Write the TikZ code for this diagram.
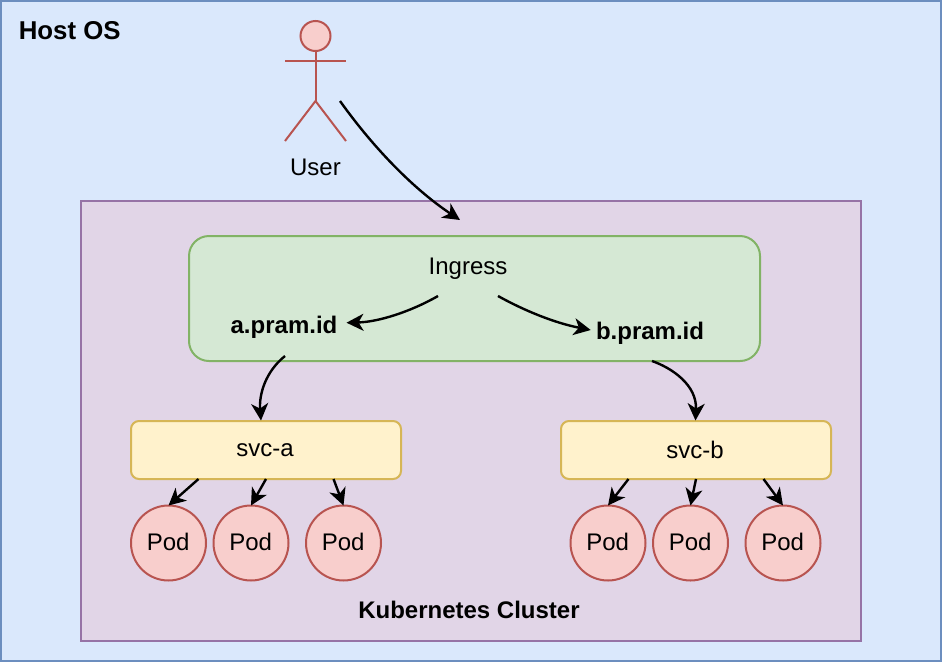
\documentclass[tikz,border=0pt]{standalone}
\usepackage{fontspec}
\setmainfont{Liberation Sans}
\usetikzlibrary{arrows.meta,calc}
\definecolor{hostfill}{HTML}{DAE8FC}\definecolor{hostline}{HTML}{6C8EBF}
\definecolor{clusterfill}{HTML}{E1D5E7}\definecolor{clusterline}{HTML}{9673A6}
\definecolor{ingfill}{HTML}{D5E8D4}\definecolor{ingline}{HTML}{82B366}
\definecolor{svcfill}{HTML}{FFF2CC}\definecolor{svcline}{HTML}{D6B656}
\definecolor{podfill}{HTML}{F8CECC}\definecolor{podline}{HTML}{B85450}
\newcommand{\podtext}{\raisebox{1.7pt}{Pod}\kern0.8pt}
\tikzset{
  box/.style={draw,line width=2pt,inner sep=0pt,outer sep=0pt,rectangle},
  hostbox/.style={box,fill=hostfill,draw=hostline,minimum width=940pt,minimum height=660pt},
  clusterbox/.style={box,fill=clusterfill,draw=clusterline,minimum width=780pt,minimum height=440pt},
  ingressbox/.style={box,fill=ingfill,draw=ingline,rounded corners=20pt,minimum width=571pt,minimum height=125pt},
  svcbox/.style={box,fill=svcfill,draw=svcline,rounded corners=8pt,minimum width=270pt,minimum height=58pt,font=\fontsize{24pt}{28pt}\selectfont},
  podnode/.style={circle,draw=podline,fill=podfill,line width=2pt,inner sep=0pt,outer sep=0pt,minimum size=75pt,font=\fontsize{24pt}{28pt}\selectfont},
  plainlabel/.style={inner sep=0pt,outer sep=0pt,anchor=base,font=\fontsize{24pt}{28pt}\selectfont},
  boldlabel/.style={inner sep=0pt,outer sep=0pt,anchor=base,font=\fontsize{24pt}{28pt}\selectfont\bfseries},
  actorline/.style={draw=podline,line width=2pt},
  flow/.style={draw=black,line width=2.4pt,-{Stealth[length=17pt,width=17pt,inset=5pt]}},
}
\begin{document}
\begin{tikzpicture}[x=1pt,y=-1pt]
\useasboundingbox (0,0) rectangle (942,662);
\node[hostbox] (host) at (471,331) {};
\node[clusterbox] (cluster) at (471,421) {};
\node[ingressbox] (ingress) at (474.5,298.5) {};
\node[svcbox] (svca) at (266,450) {svc-a\kern2pt};
\node[svcbox] (svcb) at (696,450) {svc-b\kern2pt};
\foreach \n/\x in {p1/168.5,p2/251,p3/343.5,p4/608,p5/690.5,p6/783}
  \node[podnode] (\n) at (\x,543) {\podtext};
\node[boldlabel,font=\fontsize{25.8pt}{30pt}\selectfont\bfseries] (hostlabel) at (69.7,39) {Host OS};
\node[boldlabel] (clusterlabel) at (469,618) {Kubernetes Cluster};
\node[plainlabel] (inglabel) at (468,274) {Ingress};
\node[boldlabel] (alabel) at (284,333) {a.pram.id};
\node[boldlabel] (blabel) at (650,339) {b.pram.id};
\node[plainlabel] (userlabel) at (315.5,175) {User};
% actor
\node[circle,draw=podline,fill=podfill,line width=2pt,minimum size=30pt,inner sep=0pt,outer sep=0pt] (head) at (315.5,36) {};
\coordinate (hip) at (315.5,101);
\coordinate (larm) at (285,61);
\coordinate (rarm) at (346,61);
\coordinate (lfoot) at (285,141);
\coordinate (rfoot) at (346,141);
\draw[actorline] (head.south) -- (hip);
\draw[actorline] (larm) -- (rarm);
\draw[actorline] (lfoot) -- (hip) -- (rfoot);
% connectors
\coordinate (userout) at (340,101);
\coordinate (ingin) at (460,220);
\coordinate (ingoutl) at (438,296);
\coordinate (ingoutr) at (498,296);
\coordinate (atip) at (346.5,322.7);
\coordinate (btip) at (590.7,330);
\coordinate (aout) at (285,356);
\coordinate (bout) at (652,361);
\coordinate (svcatop) at (261,420.5);
\coordinate (svcbtop) at (695.5,420.5);
\draw[flow] (userout) .. controls (375,150) and (415,190) .. (ingin);
\draw[flow] (ingoutl) .. controls (410,312) and (378,322) .. (atip);
\draw[flow] (ingoutr) .. controls (525,311) and (555,323) .. (btip);
\draw[flow] (aout) .. controls (265,372) and (259,395) .. (svcatop);
\draw[flow] (bout) .. controls (672,368) and (697,385) .. (svcbtop);
\draw[flow] ($(svca.south west)!0.25!(svca.south east)$) -- (p1.north);
\draw[flow] (svca.south) -- (p2.north);
\draw[flow] ($(svca.south west)!0.75!(svca.south east)$) -- (p3.north);
\draw[flow] ($(svcb.south west)!0.25!(svcb.south east)$) -- (p4.north);
\draw[flow] (svcb.south) -- (p5.north);
\draw[flow] ($(svcb.south west)!0.75!(svcb.south east)$) -- (p6.north);
\end{tikzpicture}
\end{document}
